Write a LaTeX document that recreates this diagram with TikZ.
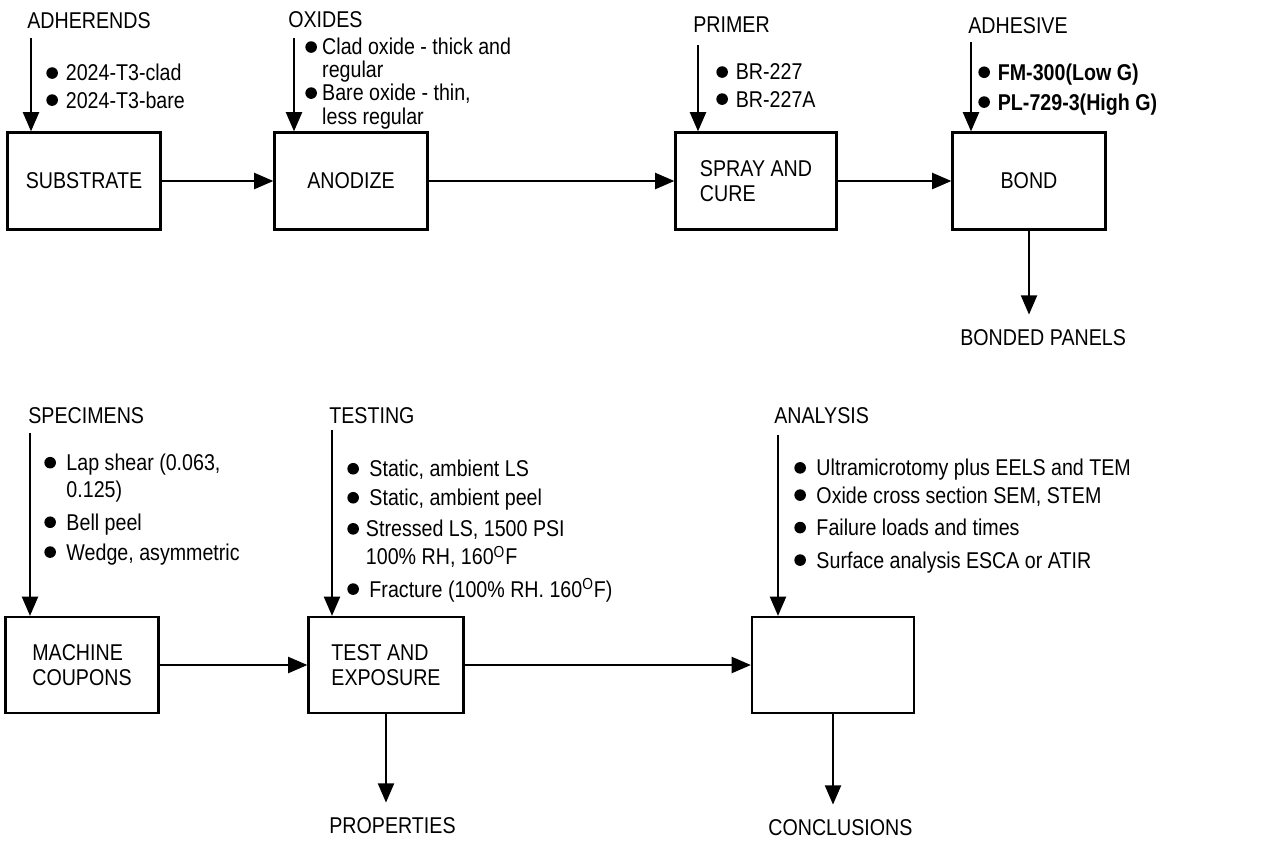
\documentclass[tikz,border=0pt]{standalone}
\usepackage{fontspec}
\setmainfont{Liberation Sans}[FakeStretch=0.86]
\usetikzlibrary{arrows.meta}
\tikzset{
  box/.style={draw,line width=1.2pt,minimum width=3.06cm,minimum height=1.94cm,align=left},
  flow/.style={line width=1.6pt,-{Triangle[length=11pt,width=9pt]}},
  lbl/.style={anchor=base west,inner sep=0pt},
  lst/.style={anchor=base west,inner sep=0pt,align=left}
}
\newcommand{\bul}[1][4.5pt]{\tikz[baseline=-4.5pt]\fill (0,0) circle (3.3pt);\hspace{#1}}
\begin{document}
\begin{tikzpicture}[x=0.02cm,y=-0.02cm,font=\fontsize{13}{14}\selectfont]
  \useasboundingbox (0,0) rectangle (1288,840);
  % process boxes
  \node[box] (sub) at (84,181) {SUBSTRATE};
  \node[box] (ano) at (351,181) {ANODIZE};
  \node[box,minimum width=3.22cm] (spray) at (756,181) {SPRAY AND\\CURE};
  \node[box] (bond) at (1029,181) {BOND};
  \node[box,minimum height=1.92cm] (mach) at (82,665) {MACHINE\\COUPONS};
  \node[box,minimum height=1.92cm,minimum width=3.1cm] (test) at (386,665) {TEST AND\\EXPOSURE};
  \node[box,minimum height=1.92cm,minimum width=3.24cm] (anl) at (833,665) {};
  % inputs
  \node[lbl] (adherends) at (27,28) {ADHERENDS};
  \node[lbl] (oxides) at (288,27) {OXIDES};
  \node[lbl] (primer) at (693,32) {PRIMER};
  \node[lbl] (adhesive) at (968,33) {ADHESIVE};
  \node[lbl] (specimens) at (28,423) {SPECIMENS};
  \node[lbl] (testing) at (329,423) {TESTING};
  \node[lbl] (analysis) at (774,423) {ANALYSIS};
  \coordinate (in1) at (31,38);
  \coordinate (in2) at (294,38);
  \coordinate (in3) at (698,45);
  \coordinate (in4) at (971,42);
  \coordinate (in5) at (30,433);
  \coordinate (in6) at (332,430);
  \coordinate (in7) at (778,435);
  % item lists
  \node[lst] (l1) at (46,108) {\bul 2024-T3-clad\\[1.4pt]\bul 2024-T3-bare};
  \node[lst,font=\fontsize{13}{13.1}\selectfont] (l2) at (305,124) {\bul[3pt]Clad oxide - thick and\\\hphantom{\bul[3pt]}regular\\
    \bul[3pt]Bare oxide - thin,\\\hphantom{\bul[3pt]}less regular};
  \node[lst] (l3) at (716,107) {\bul BR-227\\[1.4pt]\bul BR-227A};
  \node[lst,font=\fontsize{13}{14}\selectfont\bfseries] (l4) at (978,110) {\bul FM-300(Low G)\\[3pt]\bul PL-729-3(High G)};
  \node[lst] (l5) at (44,560) {\bul[6pt]Lap shear (0.063,\\[1.4pt]\hphantom{\bul[6pt]}0.125)\\[4.5pt]
    \bul[6pt]Bell peel\\[3pt]\bul[6pt]Wedge, asymmetric};
  \node[lst] (l6) at (347,597) {\bul[6pt]Static, ambient LS\\[2.5pt]\bul[6pt]Static, ambient peel\\[3.7pt]
    \bul[4pt]Stressed LS, 1500 PSI\\[2pt]\hphantom{\bul[4pt]}100\% RH, 160\textsuperscript{O}F\\[4.3pt]
    \bul[6pt]Fracture (100\% RH. 160\textsuperscript{O}F)};
  \node[lst] (l7) at (794,568) {\bul[6pt]Ultramicrotomy plus EELS and TEM\\[1.5pt]\bul[6pt]Oxide cross section SEM, STEM\\[4.5pt]
    \bul[6pt]Failure loads and times\\[4.5pt]\bul[6pt]Surface analysis ESCA or ATIR};
  % outputs
  \node[lbl] (panels) at (960,345) {BONDED PANELS};
  \node[lbl] (props) at (329,833) {PROPERTIES};
  \node[lbl] (concl) at (768,835) {CONCLUSIONS};
  \begin{scope}[flow]
    \draw (sub) -- (ano);
    \draw (ano) -- (spray);
    \draw (spray) -- (bond);
    \draw (mach) -- (test);
    \draw (test) -- (anl);
    \draw (in1) -- (in1 |- sub.north);
    \draw (in2) -- (in2 |- ano.north);
    \draw (in3) -- (in3 |- spray.north);
    \draw (in4) -- (in4 |- bond.north);
    \draw (in5) -- (in5 |- mach.north);
    \draw (in6) -- (in6 |- test.north);
    \draw (in7) -- (in7 |- anl.north);
    \draw (bond.south) -- ([yshift=8pt]bond.south |- panels.north);
    \draw (test.south) -- ([yshift=8pt]test.south |- props.north);
    \draw (anl.south) -- ([yshift=8pt]anl.south |- concl.north);
  \end{scope}
\end{tikzpicture}
\end{document}
